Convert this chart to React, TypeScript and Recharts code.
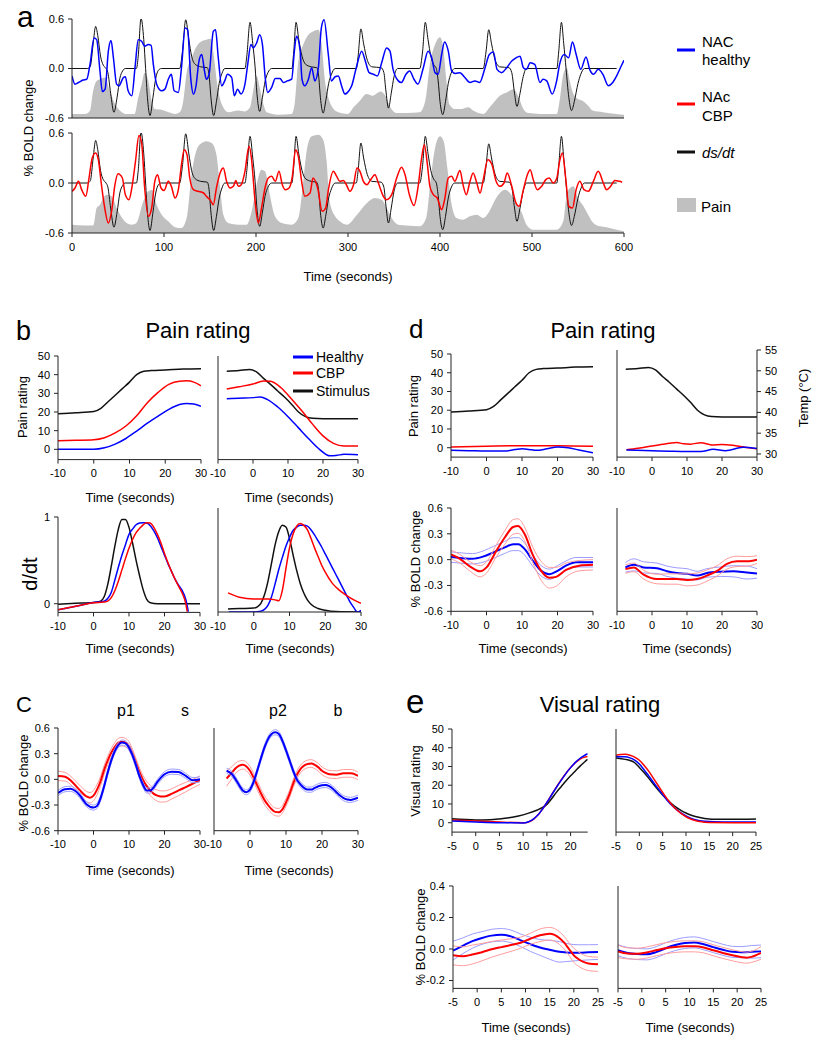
import React from "react";
import { Area, ComposedChart, Line, XAxis, YAxis } from "recharts";

type Pt = [number, number];
type Sem = [number, number, number]; // time, mean, standard error

const FONT = '"Liberation Sans", Arial, Helvetica, sans-serif';
const INK = "#222";
const BLUE = "#0000ff";
const RED = "#ff0000";
const BLACK = "#111";
const GRAY = "#c0c0c0";
const PALE_BLUE = "#9c9cff";
const PALE_RED = "#ff9c9c";

// ---------- a: whole run (0-600 s) ----------
const runTicks = [0, 100, 200, 300, 400, 500, 600];
const boldTicks = [-0.6, 0, 0.6];

const dsdt: Pt[] = [
  [0, 0], [17, 0], [20, 0.03], [23, 0.3], [25.7, 0.51], [28, 0.4], [31, 0.15], [34, 0.04], [37, 0], [39, -0.05],
  [42, -0.3], [45.6, -0.53], [49, -0.35], [52, -0.12], [55, -0.03], [58, 0], [70, 0], [72, 0.15], [75, 0.61],
  [78, 0.35], [80, 0], [82, -0.35], [84.8, -0.57], [88, -0.35], [91, -0.12], [94, -0.02], [97, 0], [117, 0],
  [120, 0.2], [123.6, 0.59], [127, 0.35], [130, 0.15], [134, 0.05], [140, 0.02], [147, 0.01], [149, -0.08],
  [151, -0.35], [154, -0.57], [157, -0.4], [160, -0.18], [163, -0.06], [166, 0], [188, 0], [190, 0.15],
  [193.5, 0.56], [196.5, 0.3], [199, 0.02], [201, -0.3], [204, -0.52], [207, -0.35], [210, -0.15], [213, -0.05],
  [217, 0], [239, 0], [241, 0.2], [243.5, 0.56], [246.5, 0.35], [250, 0.15], [254, 0.05], [260, 0.02], [266, 0.01],
  [268, -0.08], [270, -0.35], [273, -0.54], [276, -0.38], [279, -0.18], [282, -0.07], [286, 0], [309, 0],
  [311, 0.15], [314, 0.48], [317, 0.3], [321, 0.1], [326, 0.02], [336, 0.01], [339, -0.05], [341, -0.25],
  [344, -0.48], [347, -0.3], [350, -0.1], [354, 0], [378, 0], [381, 0.2], [384, 0.56], [387, 0.35], [390, 0.15],
  [393, 0.05], [396, 0], [398, -0.15], [400, -0.4], [403, -0.56], [406, -0.4], [409, -0.18], [412, -0.06],
  [416, 0], [447, 0], [450, 0.2], [453, 0.47], [456, 0.3], [460, 0.1], [465, 0.02], [475, 0.01], [478, -0.05],
  [481, -0.3], [483.6, -0.46], [487, -0.3], [490, -0.12], [494, 0], [527, 0], [529, 0.2], [532, 0.56],
  [534.5, 0.3], [537, 0], [540, -0.35], [543, -0.51], [546, -0.4], [550, -0.18], [553, -0.07], [557, 0], [592, 0],
];

const nacHealthy: Pt[] = [
  [0, -0.09], [3.3, -0.19], [7, -0.17], [12, -0.14], [16, -0.13], [19.6, 0.05], [24, 0.37], [26.8, 0.35],
  [30.4, -0.03], [33, -0.28], [36, -0.25], [39.5, 0.21], [42.4, 0.34], [45, 0.13], [48.5, -0.19], [51, -0.21],
  [55.8, -0.11], [58, -0.1], [61, -0.27], [65, -0.33], [68.5, 0.01], [72, 0.35], [75.7, 0.33], [79, 0.27],
  [83, 0.29], [86, 0.28], [88.4, 0.05], [92, -0.19], [97.5, -0.27], [101, -0.25], [104.7, -0.13], [108, -0.07],
  [111, -0.27], [115.6, -0.29], [119, 0.01], [123, 0.49], [125.7, 0.47], [129, -0.11], [132, -0.31],
  [134.8, -0.21], [138, 0.09], [141, 0.17], [144, -0.03], [146, -0.13], [149, -0.07], [153.6, 0.45], [156, 0.47],
  [159, 0.13], [162.7, -0.21], [166, -0.15], [169, -0.07], [173.6, -0.11], [176.4, -0.33], [180, -0.25],
  [183.7, -0.31], [188, -0.19], [191, 0.05], [194.5, 0.29], [197, 0.25], [200.7, 0.31], [204, 0.41], [207, 0.29],
  [210, -0.11], [212.7, -0.29], [217, -0.23], [221, -0.12], [226, -0.12], [229.7, -0.17], [234, -0.15],
  [238.8, -0.13], [241.7, 0.21], [244, 0.39], [248, 0.21], [250, -0.13], [253, -0.21], [257, -0.13],
  [260.5, 0.01], [264, -0.15], [267.8, 0.01], [271, 0.49], [274, 0.59], [278.6, 0.17], [282, -0.15], [286, -0.1],
  [289.5, -0.09], [293, -0.21], [296.7, -0.31], [301, -0.27], [304, -0.21], [309, 0.01], [314.9, 0.21],
  [318.8, 0.09], [323, -0.05], [327.5, -0.07], [332, -0.09], [336.6, 0.07], [342, 0.25], [345.6, 0.21],
  [349, -0.01], [354.7, -0.15], [358, -0.17], [363, -0.07], [367, -0.03], [371.7, -0.13], [376, -0.19],
  [381.9, 0.01], [387, 0.21], [391, 0.13], [394.6, -0.05], [398, -0.07], [401.8, 0.17], [405, 0.32], [409, 0.21],
  [412.7, -0.03], [417, -0.06], [421.7, -0.05], [427, -0.11], [432.6, -0.17], [438, -0.15], [443, -0.17],
  [449, 0.01], [453.6, 0.17], [458, 0.2], [462, -0.01], [467, -0.05], [472.5, 0.01], [478, 0.09], [482.6, 0.13],
  [487, 0.15], [490.6, 0.01], [494, -0.01], [498, 0.07], [503, 0.05], [508.7, -0.17], [512, -0.13], [516, -0.15],
  [522, -0.31], [526.8, -0.15], [530, 0.05], [535, 0.17], [539.8, 0.13], [544, 0.32], [548, 0.17], [553, -0.01],
  [558.7, 0.14], [563, -0.02], [567, -0.07], [571.9, -0.01], [577, -0.07], [583, -0.21], [587.7, -0.17],
  [592, -0.09], [597, 0.03], [600, 0.1],
];

const painHealthy: Pt[] = [
  [0, -0.55], [15, -0.55], [19.6, -0.51], [23, -0.27], [26.8, -0.15], [30.4, -0.13], [36, -0.11], [41, -0.27],
  [46.7, -0.43], [52, -0.51], [58, -0.55], [68, -0.55], [72, -0.35], [75.7, -0.19], [79, -0.05], [83, -0.15],
  [86.6, -0.39], [90, -0.49], [97.5, -0.5], [105, -0.53], [112, -0.55], [117, -0.53], [121, -0.39],
  [124.6, -0.05], [130, 0.13], [135.5, 0.27], [141, 0.33], [146, 0.35], [151, 0.36], [153.6, 0.2], [158, -0.2],
  [162.7, -0.43], [170, -0.53], [181, -0.51], [188, -0.52], [193.5, -0.47], [197, -0.27], [200.7, -0.09],
  [204, -0.23], [208, -0.43], [211.6, -0.53], [224, -0.56], [238.8, -0.55], [242, -0.43], [246, 0.09],
  [251.4, 0.29], [257, 0.41], [262, 0.45], [267.8, 0.47], [271, 0.33], [275, -0.15], [278.6, -0.35],
  [282, -0.45], [289.5, -0.53], [300, -0.55], [306, -0.47], [313, -0.39], [320, -0.31], [326.8, -0.33],
  [335.5, -0.28], [340.6, -0.33], [346, -0.47], [353, -0.54], [364, -0.54], [378, -0.53], [384, -0.39],
  [389, 0.05], [394.6, 0.29], [400, 0.38], [403, 0.29], [407, -0.15], [410, -0.43], [416, -0.49], [423, -0.49],
  [431, -0.47], [436, -0.51], [447, -0.55], [454, -0.47], [460, -0.39], [465, -0.33], [472.5, -0.29],
  [480, -0.25], [485.6, -0.35], [490.6, -0.49], [496, -0.54], [508.7, -0.55], [527, -0.55], [530, -0.39],
  [534, -0.07], [537.7, 0.01], [541, -0.15], [545, -0.31], [550, -0.37], [555, -0.39], [561, -0.45],
  [566, -0.51], [577, -0.53], [592, -0.55], [600, -0.56],
];

const nacCBP: Pt[] = [
  [0, -0.1], [3.3, -0.06], [7, 0.02], [10.5, -0.08], [15, -0.16], [18.5, 0.06], [22, 0.3], [25.7, 0.36],
  [28.6, 0.28], [32, -0.02], [35, -0.26], [39.5, -0.48], [43, -0.34], [46.7, -0.02], [50, 0.11], [54.7, 0.06],
  [58, -0.14], [62, -0.2], [65, -0.06], [69, 0.26], [72.8, 0.57], [75.7, 0.48], [79, -0.06], [83, -0.4],
  [86.6, -0.3], [90, 0.02], [93, 0.1], [96.7, -0.06], [100, -0.09], [104.7, 0.02], [108, -0.04], [112, -0.18],
  [115.6, -0.08], [119, 0.22], [122, 0.4], [125, 0.34], [128, 0.06], [132, -0.08], [137, -0.1], [143, -0.12],
  [146, -0.16], [150, -0.2], [153.6, -0.26], [157, -0.06], [161, 0.12], [164.5, 0.18], [168, 0.02],
  [171.7, -0.06], [175.4, -0.04], [178, 0.03], [180.8, -0.04], [184, -0.02], [188, 0.14], [192.4, 0.44],
  [195, 0.3], [199, -0.22], [202.5, -0.48], [206, -0.3], [209.8, -0.06], [213.4, 0.06], [217, 0.08], [221, 0.02],
  [225, 0.14], [228.6, -0.02], [232, -0.08], [236, -0.06], [239.5, 0.08], [243, 0.4], [246, 0.32], [249.6, 0.02],
  [253, -0.16], [258.7, -0.12], [262, 0.06], [267, -0.06], [272, -0.34], [275.7, -0.3], [279, -0.06],
  [284, 0.14], [287.7, 0.08], [291, 0.02], [295, 0.03], [298.6, -0.03], [302, -0.1], [306, -0.02],
  [309.8, 0.18], [313, 0.14], [316.7, 0.02], [320.6, -0.02], [324.6, 0.04], [329.3, 0.1], [333, 0],
  [338.4, -0.16], [342, -0.2], [347.5, -0.14], [352.9, 0.06], [358.3, 0.19], [362, 0.1], [366.7, -0.14],
  [371.7, -0.27], [376, -0.06], [380, 0.3], [383, 0.46], [386.3, 0.22], [389, -0.04], [392.8, -0.14],
  [397, -0.18], [401.8, -0.32], [405, -0.2], [409, 0.06], [412.7, 0.08], [416, 0.02], [421.7, 0.15],
  [425, -0.02], [428.6, -0.14], [432.6, 0.02], [436, 0.12], [440, 0], [443.5, -0.12], [447, 0.04], [452, 0.28],
  [456.5, 0.22], [461, 0.02], [465.2, -0.04], [469.6, 0], [473, 0.12], [478, -0.04], [482.6, -0.24],
  [486, -0.28], [490.6, -0.08], [495, 0.1], [498, 0.16], [501.4, 0.04], [505.8, -0.08], [510.5, -0.04],
  [515, 0.04], [518.8, 0.06], [523, 0], [527, 0.06], [530, 0.26], [533, 0.36], [536.6, 0.06], [540, -0.28],
  [544, -0.3], [548, -0.08], [552, 0.02], [556.5, -0.08], [561.3, -0.1], [566.7, 0.02], [572, 0.14],
  [577.5, 0], [581, -0.08], [585.5, -0.04], [590, 0.03], [595, 0.02], [598, 0.01],
];

const painCBP: Pt[] = [
  [0, -0.5], [14, -0.51], [23, -0.51], [26.8, -0.3], [30.4, -0.26], [34, -0.18], [37.7, -0.14], [43, -0.16],
  [48.5, -0.3], [54, -0.41], [59.4, -0.48], [64.9, -0.5], [70, -0.48], [77.5, -0.22], [83, -0.1], [87, -0.08],
  [92, -0.26], [97.5, -0.38], [104.7, -0.46], [112, -0.53], [119, -0.54], [124.6, -0.42], [130, 0.1],
  [135.5, 0.4], [141, 0.48], [146, 0.5], [151.8, 0.48], [157, 0.34], [161, -0.06], [164.5, -0.38], [170, -0.48],
  [180.8, -0.5], [190, -0.5], [195.3, -0.34], [200.7, -0.02], [206, 0.16], [209.8, 0.14], [215, -0.14],
  [220.6, -0.4], [228, -0.48], [238.8, -0.5], [246, -0.42], [251.4, 0.02], [255, 0.38], [260.5, 0.56],
  [267.8, 0.58], [273, 0.52], [276.8, 0.26], [280, -0.22], [286, -0.4], [291, -0.46], [298.6, -0.5],
  [309.8, -0.38], [320.6, -0.24], [329, -0.18], [336.6, -0.2], [342, -0.3], [347.5, -0.42], [354.7, -0.5],
  [364, -0.51], [378, -0.52], [385, -0.42], [390, 0.06], [394.6, 0.42], [400, 0.56], [404, 0.5], [408, 0.18],
  [412.7, -0.26], [418, -0.42], [425, -0.44], [432.6, -0.4], [440, -0.38], [447, -0.42], [452.5, -0.36],
  [460, -0.2], [465, -0.12], [470.6, -0.08], [476, -0.12], [481.5, -0.22], [489, -0.36], [494, -0.5],
  [501.4, -0.56], [527, -0.56], [534, -0.46], [537.7, -0.14], [541.3, -0.06], [545, -0.04], [550, -0.18],
  [556, -0.28], [561, -0.38], [566.7, -0.48], [574, -0.52], [581, -0.53], [592, -0.56], [600, -0.58],
];

// ---------- b / d: pain-rating epochs ----------
const epochTicks = [-10, 0, 10, 20, 30];
const ratingTicks = [0, 10, 20, 30, 40, 50];
const tempTicks = [30, 35, 40, 45, 50, 55];

const stimRise: Pt[] = [
  [-10, 19.1], [-5, 19.6], [0, 20.3], [2, 22], [4, 25.5], [6, 29], [8, 32.5], [10, 36], [12, 40], [14, 41.8],
  [16, 42.2], [20, 42.5], [25, 43], [30, 43.2],
];
const riseCBP: Pt[] = [
  [-10, 4.6], [-5, 4.8], [0, 5.1], [3, 6.2], [6, 8.8], [9, 12.5], [12, 18], [15, 25], [18, 30.5], [21, 34.8],
  [24, 36.5], [26, 36.7], [28, 36], [30, 34],
];
const riseHealthy: Pt[] = [
  [-10, 0], [0, 0], [3, 0.8], [6, 2.8], [9, 5.8], [12, 9.8], [15, 14], [18, 17.8], [21, 21.4], [24, 24],
  [26, 24.6], [28, 24.3], [30, 23],
];
const stimFall: Pt[] = [
  [-7.5, 41.8], [-4, 42.2], [-1, 42.8], [1, 41.5], [3, 38], [5, 34.8], [7, 31.4], [9, 28], [11, 24.2], [13, 20],
  [15, 17.5], [17, 16.6], [20, 16.4], [30, 16.4],
];
const fallCBP: Pt[] = [
  [-7.5, 32.3], [-4, 33.5], [0, 35], [3, 36.6], [5, 36.5], [8, 33], [11, 27], [14, 20.5], [17, 13.5], [20, 7.2],
  [23, 3.2], [26, 1.8], [30, 1.8],
];
const fallHealthy: Pt[] = [
  [-7.5, 27.1], [-4, 27.4], [0, 27.7], [2, 28], [4, 26.8], [7, 22.8], [10, 17.5], [13, 11.5], [16, 5.5], [19, 0],
  [22, -3.5], [24, -3.2], [26, -2.7], [30, -2.9],
];

// d/dt of the rising / falling epochs (normalised)
const slopeRiseStim: Pt[] = [
  [-10, -0.005], [-5, 0.005], [0, 0.015], [2, 0.03], [3, 0.08], [4, 0.22], [5, 0.43], [6, 0.66], [7, 0.86],
  [8, 0.97], [9, 0.97], [10, 0.88], [11, 0.7], [12, 0.5], [13, 0.32], [14, 0.16], [15, 0.05], [16, 0.01],
  [18, 0], [30, 0],
];
const slopeRiseHealthy: Pt[] = [
  [-10, -0.07], [-5, -0.03], [0, 0.015], [3, 0.03], [4, 0.06], [5, 0.13], [6, 0.27], [7, 0.42], [8, 0.56],
  [9, 0.68], [10, 0.8], [11, 0.86], [12, 0.91], [13, 0.93], [14, 0.935], [15, 0.93], [16, 0.9], [17, 0.84],
  [18, 0.76], [19, 0.66], [20, 0.56], [21, 0.46], [22, 0.37], [23, 0.28], [24, 0.21], [25, 0.15], [26, 0.05],
  [26.7, -0.09],
];
const slopeRiseCBP: Pt[] = [
  [-10, -0.07], [-5, -0.03], [0, 0.01], [3, 0.02], [4, 0.03], [5, 0.07], [6, 0.15], [7, 0.26], [8, 0.39],
  [9, 0.52], [10, 0.64], [11, 0.74], [12, 0.82], [13, 0.87], [14, 0.91], [15, 0.935], [16, 0.93], [17, 0.88],
  [18, 0.8], [19, 0.7], [20, 0.58], [21, 0.47], [22, 0.37], [23, 0.28], [24, 0.2], [25, 0.12], [26, 0],
  [26.4, -0.09],
];
const slopeFallStim: Pt[] = [
  [-7.2, 0.035], [-4, 0.04], [0, 0.045], [1, 0.06], [2, 0.1], [3, 0.2], [4, 0.36], [5, 0.57], [6, 0.78],
  [7, 0.93], [8, 1.0], [9, 0.98], [10, 0.85], [11, 0.66], [12, 0.48], [13, 0.33], [14, 0.22], [15, 0.14],
  [16, 0.09], [18, 0.04], [20, 0.02], [23, 0.005], [30, 0],
];
const slopeFallCBP: Pt[] = [
  [-7.2, 0.22], [-4, 0.17], [0, 0.15], [4, 0.15], [6, 0.14], [7, 0.13], [8, 0.25], [9, 0.5], [10, 0.74],
  [11, 0.9], [12, 0.99], [13, 1.02], [14, 1.0], [15, 0.95], [16, 0.85], [17, 0.74], [18, 0.64], [19, 0.54],
  [20, 0.46], [22, 0.33], [24, 0.25], [26, 0.19], [28, 0.14], [30, 0.1],
];
const slopeFallHealthy: Pt[] = [
  [-7, 0], [-1, 0], [2, 0.01], [3, 0.03], [4, 0.08], [5, 0.18], [6, 0.33], [7, 0.49], [8, 0.63], [9, 0.76],
  [10, 0.86], [11, 0.94], [12, 0.98], [13, 1.0], [14, 1.0], [15, 0.99], [16, 0.95], [17, 0.89], [18, 0.82],
  [19, 0.75], [20, 0.67], [21, 0.59], [22, 0.51], [23, 0.43], [24, 0.35], [25, 0.27], [26, 0.19], [27, 0.11],
  [28, 0.05], [29, 0], [30, 0.02],
];

// ---------- c: BOLD at peaks ----------
const p1Healthy: Sem[] = [
  [-10, -0.16, 0.03], [-8, -0.115, 0.03], [-6.5, -0.11, 0.03], [-5, -0.14, 0.03], [-4, -0.18, 0.03],
  [-2, -0.29, 0.03], [0, -0.33, 0.03], [1, -0.31, 0.03], [2, -0.22, 0.03], [3, -0.08, 0.03], [4, 0.08, 0.03],
  [5, 0.22, 0.03], [6, 0.33, 0.03], [7, 0.4, 0.03], [8, 0.43, 0.03], [9, 0.42, 0.03], [10, 0.37, 0.03],
  [11, 0.28, 0.03], [12, 0.16, 0.03], [13, 0.03, 0.03], [14, -0.07, 0.03], [15, -0.13, 0.03], [16, -0.13, 0.03],
  [17, -0.09, 0.03], [18, -0.03, 0.03], [19, 0.02, 0.03], [20, 0.06, 0.03], [22, 0.09, 0.03], [24, 0.085, 0.03],
  [26, 0.04, 0.03], [28, -0.01, 0.03], [30, 0, 0.03],
];
const p1CBP: Sem[] = [
  [-10, 0.04, 0.055], [-8, 0.03, 0.05], [-6, -0.03, 0.05], [-4, -0.12, 0.055], [-2, -0.2, 0.06],
  [-1, -0.215, 0.06], [0, -0.19, 0.06], [1, -0.12, 0.06], [2, -0.02, 0.055], [3, 0.11, 0.05], [4, 0.22, 0.05],
  [5, 0.31, 0.05], [6, 0.38, 0.05], [7, 0.43, 0.05], [8, 0.44, 0.05], [9, 0.43, 0.05], [10, 0.39, 0.05],
  [11, 0.3, 0.05], [12, 0.19, 0.05], [13, 0.08, 0.05], [14, -0.01, 0.05], [15, -0.08, 0.055], [16, -0.13, 0.06],
  [17, -0.17, 0.06], [18, -0.19, 0.065], [19, -0.2, 0.065], [20, -0.2, 0.065], [22, -0.17, 0.06],
  [24, -0.13, 0.06], [26, -0.09, 0.055], [28, -0.05, 0.05], [30, -0.01, 0.05],
];
const p2Healthy: Sem[] = [
  [-6.5, 0.1, 0.03], [-5, 0.06, 0.03], [-4, 0, 0.03], [-3, -0.07, 0.03], [-2, -0.13, 0.03], [-1, -0.15, 0.03],
  [0, -0.12, 0.03], [1, -0.03, 0.03], [2, 0.1, 0.03], [3, 0.24, 0.03], [4, 0.37, 0.03], [5, 0.47, 0.03],
  [6, 0.53, 0.03], [7, 0.55, 0.03], [8, 0.53, 0.03], [9, 0.45, 0.03], [10, 0.34, 0.03], [11, 0.22, 0.03],
  [12, 0.1, 0.03], [13, 0, 0.03], [14, -0.06, 0.03], [15, -0.1, 0.03], [16, -0.12, 0.03], [17, -0.12, 0.03],
  [18, -0.1, 0.03], [19, -0.08, 0.03], [20, -0.07, 0.03], [21, -0.065, 0.03], [22, -0.08, 0.03],
  [23, -0.11, 0.03], [24, -0.15, 0.03], [25, -0.19, 0.03], [26, -0.22, 0.03], [27, -0.235, 0.03],
  [28, -0.24, 0.03], [29, -0.23, 0.03], [30, -0.215, 0.03],
];
const p2CBP: Sem[] = [
  [-6.5, 0.01, 0.09], [-5, 0.08, 0.07], [-4, 0.13, 0.06], [-3, 0.16, 0.055], [-2, 0.17, 0.05], [-1, 0.15, 0.05],
  [0, 0.1, 0.05], [1, 0.02, 0.05], [2, -0.07, 0.05], [3, -0.16, 0.05], [4, -0.24, 0.05], [5, -0.3, 0.05],
  [6, -0.35, 0.045], [7, -0.38, 0.045], [8, -0.385, 0.045], [9, -0.35, 0.045], [10, -0.27, 0.045],
  [11, -0.17, 0.045], [12, -0.05, 0.045], [13, 0.05, 0.045], [14, 0.12, 0.045], [15, 0.16, 0.045],
  [16, 0.18, 0.045], [17, 0.185, 0.045], [18, 0.17, 0.045], [19, 0.14, 0.045], [20, 0.1, 0.045],
  [21, 0.075, 0.045], [22, 0.06, 0.045], [24, 0.055, 0.045], [26, 0.07, 0.045], [28, 0.07, 0.045],
  [30, 0.04, 0.045],
];

// ---------- d: ratings and BOLD for the stimulus epochs ----------
const boldTicksFine = [-0.6, -0.3, 0, 0.3, 0.6];
const dRiseCBPRating: Pt[] = [[-10, 0.4], [0, 0.8], [10, 1.1], [20, 1.1], [30, 0.8]];
const dRiseHealthyRating: Pt[] = [
  [-10, -1.4], [-5, -1.6], [0, -1.8], [5, -1.8], [8, -1.0], [10, -0.5], [12, -0.9], [14, -1.4], [17, -0.6],
  [20, 0.4], [23, 0], [26, -1.2], [30, -2.7],
];
const dFallCBPRating: Pt[] = [
  [-7.3, -1.1], [-4, -0.3], [0, 0.9], [3, 1.8], [5, 2.4], [7, 2.8], [9, 2.1], [11, 1.9], [14, 2.7], [17, 1.5],
  [20, 1.7], [23, 1.3], [27, 0.1], [30, -0.6],
];
const dFallHealthyRating: Pt[] = [
  [-7.3, -1.2], [0, -1.6], [5, -1.9], [10, -2.1], [14, -2.1], [17.5, -0.9], [21, -1.6], [26, 0.2], [30, -0.5],
];
const dRiseHealthy: Sem[] = [
  [-10, 0.03, 0.06], [-7.5, 0.02, 0.06], [-4, 0.01, 0.06], [-1, 0.035, 0.065], [2, 0.085, 0.07],
  [5, 0.14, 0.07], [7.5, 0.18, 0.075], [9, 0.18, 0.075], [10.7, 0.125, 0.07], [13, -0.01, 0.065],
  [15.4, -0.13, 0.06], [17.7, -0.17, 0.06], [20, -0.13, 0.06], [22.4, -0.07, 0.055], [25.2, -0.03, 0.055],
  [28, -0.03, 0.055], [30, -0.03, 0.055],
];
const dRiseCBP: Sem[] = [
  [-10, 0.06, 0.05], [-7.5, 0.01, 0.05], [-4.6, -0.08, 0.055], [-1.8, -0.135, 0.065], [0, -0.09, 0.065],
  [2.8, 0.105, 0.07], [5.2, 0.26, 0.08], [7.5, 0.38, 0.085], [8.9, 0.39, 0.085], [10.7, 0.3, 0.08],
  [13.1, 0.05, 0.09], [15.4, -0.13, 0.11], [17.7, -0.21, 0.12], [19.6, -0.2, 0.11], [22.4, -0.12, 0.08],
  [26.1, -0.07, 0.06], [30, -0.06, 0.06],
];
const dFallHealthy: Sem[] = [
  [-7.6, -0.09, 0.055], [-5.2, -0.06, 0.07], [-2.4, -0.09, 0.065], [1.4, -0.1, 0.06], [4.3, -0.135, 0.06],
  [7.1, -0.155, 0.06], [10, -0.165, 0.06], [12.9, -0.185, 0.05], [15.7, -0.155, 0.05], [19.5, -0.14, 0.055],
  [23.3, -0.135, 0.065], [27.1, -0.15, 0.075], [30, -0.16, 0.055],
];
const dFallCBP: Sem[] = [
  [-7.6, -0.11, 0.05], [-5.2, -0.09, 0.05], [-2.4, -0.175, 0.05], [1.4, -0.225, 0.055], [4.3, -0.225, 0.06],
  [7.1, -0.225, 0.06], [10, -0.235, 0.07], [12.9, -0.225, 0.07], [15.7, -0.185, 0.065], [18.6, -0.13, 0.06],
  [21.4, -0.05, 0.06], [24.3, -0.02, 0.06], [27.1, -0.02, 0.055], [30, 0, 0.045],
];

// ---------- e: visual rating ----------
const visTicks = [-5, 0, 5, 10, 15, 20, 25];
const visBoldTicks = [-0.2, 0, 0.2, 0.4];
const visRiseStim: Pt[] = [
  [-5, 2.1], [0, 1.5], [3, 1.6], [5, 2.0], [7, 2.6], [9, 3.6], [11, 5.0], [13, 6.8], [14, 8], [15, 9.8],
  [16, 12.8], [17, 16.2], [18, 19.2], [19, 22.2], [20, 25], [21, 27.6], [22, 30.2], [23, 32.5], [23.6, 33.8],
];
const visRiseCBP: Pt[] = [
  [-5, 1.4], [0, 0.9], [5, 0.4], [8, 0.1], [10, 0], [11, 0.3], [12, 1.5], [13, 3.8], [14, 7], [15, 10.8],
  [16, 15], [17, 19], [18, 22.8], [19, 26.3], [20, 29.4], [21, 32], [22, 34], [23, 35], [23.6, 35.3],
];
const visRiseHealthy: Pt[] = [
  [-5, 0.9], [0, 0.4], [5, 0], [10, -0.1], [11, 0.4], [12, 1.6], [13, 3.8], [14, 7], [15, 10.8], [16, 14.8],
  [17, 18.8], [18, 22.6], [19, 26.2], [20, 29.4], [21, 32.2], [22, 34.4], [23, 36], [23.6, 36.8],
];
const visFallStim: Pt[] = [
  [-5, 34.5], [-3, 33.8], [-2, 33.2], [-1, 32], [0, 29.5], [1, 26.8], [2, 23.8], [3, 20.6], [4, 17.6],
  [5, 14.8], [6, 12.3], [7, 10], [8, 8.1], [9, 6.5], [10, 5.2], [11, 4.1], [12, 3.3], [14, 2.3], [17, 1.8],
  [20, 1.8], [25, 2.0],
];
const visFallCBP: Pt[] = [
  [-5, 36], [-4, 36.4], [-3, 36.5], [-2, 36], [-1, 35], [0, 33.3], [1, 30.7], [2, 27.5], [3, 23.8], [4, 20],
  [5, 16.2], [6, 12.6], [7, 9.5], [8, 6.9], [9, 4.8], [10, 3.2], [11, 2.0], [12, 1.2], [13, 0.6], [15, 0.1],
  [20, 0], [25, 0],
];
const visFallHealthy: Pt[] = [
  [-5, 35.2], [-3, 35.2], [-2, 34.6], [-1, 33.4], [0, 31.3], [1, 28.3], [2, 25], [3, 21.6], [4, 18.3], [5, 15],
  [6, 11.9], [7, 9.2], [8, 7], [9, 5.1], [10, 3.6], [11, 2.4], [12, 1.6], [14, 0.8], [18, 0.4], [25, 0.4],
];
const visBoldRiseHealthy: Sem[] = [
  [-5, -0.01, 0.06], [-3, 0.02, 0.05], [-1, 0.05, 0.045], [1, 0.07, 0.04], [3, 0.085, 0.04], [5, 0.09, 0.04],
  [7, 0.08, 0.04], [9, 0.055, 0.04], [11, 0.03, 0.045], [13, 0.01, 0.05], [15, -0.005, 0.06],
  [17, -0.018, 0.065], [19, -0.023, 0.055], [21, -0.023, 0.05], [23, -0.021, 0.048], [25, -0.019, 0.047],
];
const visBoldRiseCBP: Sem[] = [
  [-5, -0.04, 0.06], [-3, -0.046, 0.06], [-1, -0.035, 0.06], [1, -0.02, 0.055], [3, -0.002, 0.05],
  [5, 0.012, 0.045], [7, 0.025, 0.04], [9, 0.04, 0.035], [11, 0.065, 0.035], [13, 0.087, 0.04],
  [15, 0.097, 0.04], [16, 0.09, 0.04], [17, 0.07, 0.04], [18, 0.04, 0.04], [19, 0, 0.04], [20, -0.04, 0.045],
  [21, -0.065, 0.045], [22, -0.082, 0.045], [23, -0.092, 0.045], [25, -0.097, 0.045],
];
const visBoldFallHealthy: Sem[] = [
  [-5, -0.008, 0.035], [-3, -0.025, 0.035], [-1, -0.032, 0.035], [1, -0.034, 0.035], [3, -0.02, 0.035],
  [5, 0.005, 0.035], [7, 0.025, 0.035], [9, 0.038, 0.035], [11, 0.042, 0.035], [13, 0.03, 0.035],
  [15, 0.012, 0.035], [17, -0.005, 0.035], [19, -0.018, 0.035], [21, -0.02, 0.035], [23, -0.018, 0.04],
  [25, -0.015, 0.04],
];
const visBoldFallCBP: Sem[] = [
  [-5, -0.015, 0.04], [-3, -0.028, 0.035], [-1, -0.03, 0.035], [1, -0.022, 0.035], [3, -0.008, 0.035],
  [5, 0.005, 0.035], [7, 0.013, 0.035], [9, 0.017, 0.035], [11, 0.017, 0.035], [13, 0.01, 0.035],
  [15, -0.008, 0.035], [17, -0.025, 0.035], [19, -0.04, 0.035], [21, -0.052, 0.035], [22, -0.055, 0.035],
  [23, -0.05, 0.035], [25, -0.025, 0.04],
];

// ---------- helpers ----------
const rows = (pts: Pt[]) => pts.map(([t, v]) => ({ t, v }));

function trace(key: string, pts: Pt[], color: string, width = 1.5) {
  return (
    <Line
      key={key}
      data={rows(pts)}
      dataKey="v"
      type="monotone"
      stroke={color}
      strokeWidth={width}
      dot={false}
      activeDot={false}
      isAnimationActive={false}
    />
  );
}

function semTraces(key: string, data: Sem[], color: string, pale: string) {
  const upper: Pt[] = data.map(([t, m, e]) => [t, m + e]);
  const lower: Pt[] = data.map(([t, m, e]) => [t, m - e]);
  const mean: Pt[] = data.map(([t, m]) => [t, m]);
  return [
    trace(key + "-up", upper, pale, 1),
    trace(key + "-lo", lower, pale, 1),
    trace(key + "-mean", mean, color, 2),
  ];
}

function painArea(key: string, pts: Pt[]) {
  return (
    <Area
      key={key}
      data={rows(pts)}
      dataKey="v"
      type="monotone"
      baseValue={-0.6}
      stroke="none"
      fill={GRAY}
      fillOpacity={1}
      dot={false}
      activeDot={false}
      isAnimationActive={false}
    />
  );
}

const tickFont = { fontSize: 11, fill: "#000", fontFamily: FONT };
const fmt1 = (v: number) => v.toFixed(1);

type PlotProps = {
  x0: number;
  x1: number;
  y0: number;
  y1: number;
  xDomain: [number, number];
  xTicks: number[];
  yDomain: [number, number];
  yTicks: number[];
  xLabels?: boolean;
  yLabels?: boolean;
  yFormat?: (v: number) => string;
  right?: { domain: [number, number]; ticks: number[] };
  children?: React.ReactNode;
};

const LEFT = 44;
const TOP = 6;
const XH = 26;

function Plot(p: PlotProps) {
  const rightW = p.right ? 36 : 16;
  const w = LEFT + (p.x1 - p.x0) + rightW;
  const h = TOP + (p.y1 - p.y0) + XH;
  return (
    <div style={{ position: "absolute", left: p.x0 - LEFT, top: p.y0 - TOP }}>
      <ComposedChart width={w} height={h} margin={{ top: TOP, right: p.right ? 0 : rightW, bottom: 0, left: 0 }}>
        <XAxis
          dataKey="t"
          type="number"
          domain={p.xDomain}
          ticks={p.xTicks}
          interval={0}
          allowDataOverflow
          height={XH}
          stroke={INK}
          tickSize={4}
          tickMargin={6}
          tick={p.xLabels === false ? false : tickFont}
        />
        <YAxis
          type="number"
          domain={p.yDomain}
          ticks={p.yTicks}
          interval={0}
          allowDataOverflow
          width={LEFT}
          stroke={INK}
          tickSize={4}
          tickMargin={4}
          tick={p.yLabels === false ? false : tickFont}
          tickFormatter={p.yFormat}
        />
        {p.right && (
          <YAxis
            yAxisId="right"
            orientation="right"
            type="number"
            domain={p.right.domain}
            ticks={p.right.ticks}
            interval={0}
            allowDataOverflow
            width={rightW}
            stroke={INK}
            tickSize={4}
            tickMargin={4}
            tick={tickFont}
          />
        )}
        {p.children}
      </ComposedChart>
    </div>
  );
}

type TxtProps = {
  x: number;
  y: number;
  size?: number;
  anchor?: "start" | "middle" | "end";
  rotate?: boolean;
  italic?: boolean;
  children: React.ReactNode;
};

function Txt({ x, y, size = 13, anchor = "start", rotate, italic, children }: TxtProps) {
  return (
    <text
      x={x}
      y={y}
      fontSize={size}
      fontFamily={FONT}
      fill="#000"
      textAnchor={rotate ? "middle" : anchor}
      fontStyle={italic ? "italic" : undefined}
      dominantBaseline={rotate ? "central" : undefined}
      transform={rotate ? `rotate(-90 ${x} ${y})` : undefined}
    >
      {children}
    </text>
  );
}

export default function App() {
  return (
    <div style={{ position: "absolute", left: 0, top: 0, width: 823, height: 1050, background: "#fff" }}>
      {/* a */}
      <Plot x0={72} x1={624} y0={19} y1={118} xDomain={[0, 600]} xTicks={runTicks} yDomain={[-0.6, 0.6]}
        yTicks={boldTicks} yFormat={fmt1} xLabels={false}>
        {painArea("pain-h", painHealthy)}
        {trace("dsdt-h", dsdt, BLACK, 1)}
        {trace("nac-h", nacHealthy, BLUE, 1.5)}
      </Plot>
      <Plot x0={72} x1={624} y0={133} y1={233} xDomain={[0, 600]} xTicks={runTicks} yDomain={[-0.6, 0.6]}
        yTicks={boldTicks} yFormat={fmt1}>
        {painArea("pain-c", painCBP)}
        {trace("dsdt-c", dsdt, BLACK, 1)}
        {trace("nac-c", nacCBP, RED, 1.5)}
      </Plot>

      {/* b */}
      <Plot x0={58} x1={201} y0={355.7} y1={459.3} xDomain={[-10, 30]} xTicks={epochTicks} yDomain={[-5.5, 50]}
        yTicks={ratingTicks}>
        {trace("b-rs", stimRise, BLACK)}
        {trace("b-rc", riseCBP, RED)}
        {trace("b-rh", riseHealthy, BLUE)}
      </Plot>
      <Plot x0={218} x1={358} y0={355.7} y1={459.3} xDomain={[-10, 30]} xTicks={epochTicks} yDomain={[-5.5, 50]}
        yTicks={ratingTicks} yLabels={false}>
        {trace("b-fs", stimFall, BLACK)}
        {trace("b-fc", fallCBP, RED)}
        {trace("b-fh", fallHealthy, BLUE)}
      </Plot>
      <Plot x0={58} x1={200} y0={517.3} y1={612.7} xDomain={[-10, 30]} xTicks={epochTicks} yDomain={[-0.1, 1]}
        yTicks={[0, 1]}>
        {trace("s-rs", slopeRiseStim, BLACK)}
        {trace("s-rh", slopeRiseHealthy, BLUE)}
        {trace("s-rc", slopeRiseCBP, RED)}
      </Plot>
      <Plot x0={218} x1={361} y0={508.3} y1={612.3} xDomain={[-10, 30]} xTicks={epochTicks} yDomain={[0, 1.2]}
        yTicks={[0, 1]} yLabels={false}>
        {trace("s-fs", slopeFallStim, BLACK)}
        {trace("s-fh", slopeFallHealthy, BLUE)}
        {trace("s-fc", slopeFallCBP, RED)}
      </Plot>

      {/* c */}
      <Plot x0={58} x1={200} y0={728.3} y1={831} xDomain={[-10, 30]} xTicks={epochTicks} yDomain={[-0.6, 0.6]}
        yTicks={boldTicksFine} yFormat={fmt1}>
        {semTraces("p1c", p1CBP, RED, PALE_RED)}
        {semTraces("p1h", p1Healthy, BLUE, PALE_BLUE)}
      </Plot>
      <Plot x0={214} x1={358} y0={728.3} y1={831} xDomain={[-10, 30]} xTicks={epochTicks} yDomain={[-0.6, 0.6]}
        yTicks={boldTicksFine} yLabels={false}>
        {semTraces("p2c", p2CBP, RED, PALE_RED)}
        {semTraces("p2h", p2Healthy, BLUE, PALE_BLUE)}
      </Plot>

      {/* d */}
      <Plot x0={451} x1={593} y0={354} y1={457.1} xDomain={[-10, 30]} xTicks={epochTicks} yDomain={[-5, 50]}
        yTicks={ratingTicks}>
        {trace("d-rs", stimRise, BLACK)}
        {trace("d-rc", dRiseCBPRating, RED)}
        {trace("d-rh", dRiseHealthyRating, BLUE)}
      </Plot>
      <Plot x0={617} x1={757} y0={350} y1={457.1} xDomain={[-10, 30]} xTicks={epochTicks} yDomain={[-5.02, 52.13]}
        yTicks={ratingTicks} yLabels={false} right={{ domain: [29.25, 55], ticks: tempTicks }}>
        {trace("d-fs", stimFall, BLACK)}
        {trace("d-fc", dFallCBPRating, RED)}
        {trace("d-fh", dFallHealthyRating, BLUE)}
      </Plot>
      <Plot x0={451} x1={593} y0={507.7} y1={611} xDomain={[-10, 30]} xTicks={epochTicks} yDomain={[-0.6, 0.6]}
        yTicks={boldTicksFine} yFormat={fmt1}>
        {semTraces("dbh", dRiseHealthy, BLUE, PALE_BLUE)}
        {semTraces("dbc", dRiseCBP, RED, PALE_RED)}
      </Plot>
      <Plot x0={617} x1={757} y0={507.7} y1={611} xDomain={[-10, 30]} xTicks={epochTicks} yDomain={[-0.6, 0.6]}
        yTicks={boldTicksFine} yLabels={false}>
        {semTraces("dfh", dFallHealthy, BLUE, PALE_BLUE)}
        {semTraces("dfc", dFallCBP, RED, PALE_RED)}
      </Plot>

      {/* e */}
      <Plot x0={452.3} x1={588} y0={729} y1={832.1} xDomain={[-5, 23.6]} xTicks={visTicks.slice(0, 6)}
        yDomain={[-5, 50]} yTicks={ratingTicks}>
        {trace("e-rs", visRiseStim, BLACK)}
        {trace("e-rc", visRiseCBP, RED)}
        {trace("e-rh", visRiseHealthy, BLUE)}
      </Plot>
      <Plot x0={616} x1={756} y0={729} y1={832.1} xDomain={[-5, 25]} xTicks={visTicks} yDomain={[-5, 50]}
        yTicks={ratingTicks} yLabels={false}>
        {trace("e-fs", visFallStim, BLACK)}
        {trace("e-fh", visFallHealthy, BLUE)}
        {trace("e-fc", visFallCBP, RED)}
      </Plot>
      <Plot x0={453} x1={598} y0={885.7} y1={988.1} xDomain={[-5, 25]} xTicks={visTicks} yDomain={[-0.25, 0.4]}
        yTicks={visBoldTicks} yFormat={fmt1}>
        {semTraces("ebh", visBoldRiseHealthy, BLUE, PALE_BLUE)}
        {semTraces("ebc", visBoldRiseCBP, RED, PALE_RED)}
      </Plot>
      <Plot x0={618} x1={761} y0={885.7} y1={988.1} xDomain={[-5, 25]} xTicks={visTicks} yDomain={[-0.25, 0.4]}
        yTicks={visBoldTicks} yLabels={false}>
        {semTraces("efh", visBoldFallHealthy, BLUE, PALE_BLUE)}
        {semTraces("efc", visBoldFallCBP, RED, PALE_RED)}
      </Plot>

      {/* labels */}
      <svg width={823} height={1050} style={{ position: "absolute", left: 0, top: 0, pointerEvents: "none" }}>
        <Txt x={17} y={27} size={30}>a</Txt>
        <Txt x={28} y={128} rotate>% BOLD change</Txt>
        <Txt x={348} y={281} anchor="middle">Time (seconds)</Txt>

        <line x1={677} x2={695} y1={50} y2={50} stroke={BLUE} strokeWidth={3} />
        <Txt x={702} y={47} size={15}>NAC</Txt>
        <Txt x={702} y={65} size={15}>healthy</Txt>
        <line x1={677} x2={695} y1={104} y2={104} stroke={RED} strokeWidth={3} />
        <Txt x={702} y={102} size={15}>NAc</Txt>
        <Txt x={702} y={121} size={15}>CBP</Txt>
        <line x1={677} x2={695} y1={152} y2={152} stroke={BLACK} strokeWidth={3} />
        <Txt x={702} y={158} size={15} italic>ds/dt</Txt>
        <rect x={677} y={198} width={19} height={14} fill={GRAY} />
        <Txt x={701} y={212} size={15}>Pain</Txt>

        <Txt x={16} y={340} size={27}>b</Txt>
        <Txt x={198} y={338} size={22} anchor="middle">Pain rating</Txt>
        <Txt x={22} y={407} rotate>Pain rating</Txt>
        <Txt x={130} y={502} anchor="middle">Time (seconds)</Txt>
        <Txt x={289} y={502} anchor="middle">Time (seconds)</Txt>
        <line x1={293} x2={313} y1={357} y2={357} stroke={BLUE} strokeWidth={3} />
        <Txt x={316} y={362} size={14}>Healthy</Txt>
        <line x1={293} x2={313} y1={373} y2={373} stroke={RED} strokeWidth={3} />
        <Txt x={316} y={378} size={14}>CBP</Txt>
        <line x1={293} x2={313} y1={391} y2={391} stroke={BLACK} strokeWidth={3} />
        <Txt x={316} y={396} size={14}>Stimulus</Txt>
        <Txt x={30} y={574} size={20} rotate>d/dt</Txt>
        <Txt x={130} y={653} anchor="middle">Time (seconds)</Txt>
        <Txt x={290} y={653} anchor="middle">Time (seconds)</Txt>

        <Txt x={16} y={712} size={22}>C</Txt>
        <Txt x={126} y={716} size={16} anchor="middle">p1</Txt>
        <Txt x={185} y={716} size={16} anchor="middle">s</Txt>
        <Txt x={278} y={716} size={16} anchor="middle">p2</Txt>
        <Txt x={338} y={716} size={16} anchor="middle">b</Txt>
        <Txt x={23} y={783} rotate>% BOLD change</Txt>
        <Txt x={130} y={875} anchor="middle">Time (seconds)</Txt>
        <Txt x={289} y={875} anchor="middle">Time (seconds)</Txt>

        <Txt x={409} y={338} size={26}>d</Txt>
        <Txt x={603} y={338} size={22} anchor="middle">Pain rating</Txt>
        <Txt x={413} y={406} rotate>Pain rating</Txt>
        <Txt x={803} y={398} rotate>Temp (°C)</Txt>
        <Txt x={415} y={559} rotate>% BOLD change</Txt>
        <Txt x={523} y={653} anchor="middle">Time (seconds)</Txt>
        <Txt x={687} y={653} anchor="middle">Time (seconds)</Txt>

        <Txt x={406} y={713} size={33}>e</Txt>
        <Txt x={600} y={712} size={22} anchor="middle">Visual rating</Txt>
        <Txt x={415} y={781} rotate>Visual rating</Txt>
        <Txt x={420} y={937} rotate>% BOLD change</Txt>
        <Txt x={526} y={1032} anchor="middle">Time (seconds)</Txt>
        <Txt x={690} y={1032} anchor="middle">Time (seconds)</Txt>
      </svg>
    </div>
  );
}
